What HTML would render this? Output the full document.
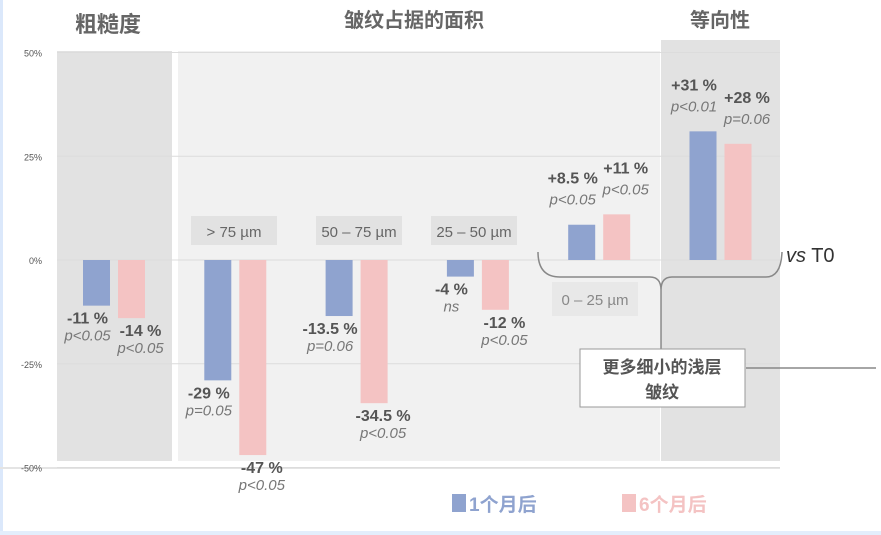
<!DOCTYPE html>
<html><head><meta charset="utf-8"><style>
body{margin:0;background:#fff;}
svg{display:block;font-family:"Liberation Sans","Noto Sans CJK SC",sans-serif;}
</style></head><body>
<svg id="c" width="881" height="535" viewBox="0 0 881 535">
<rect x="0" y="0" width="881" height="535" fill="#fff"/>
<rect x="0" y="0" width="3" height="535" fill="#dbe8fb"/>
<rect x="0" y="531" width="881" height="4" fill="#e3eefc"/>
<rect x="57" y="51" width="115" height="410" fill="#e2e2e2"/>
<rect x="178" y="51" width="482" height="410" fill="#f1f1f1"/>
<rect x="661" y="40" width="119" height="421" fill="#e2e2e2"/>
<line x1="0" y1="468" x2="780" y2="468" stroke="#e4e4e4" stroke-width="2"/>
<g id="grid"></g>
<g id="bars"></g>
<g id="labels"></g>
<text x="108" y="32" font-size="22" font-weight="bold" fill="#666" text-anchor="middle">粗糙度</text>
<text x="414" y="27" font-size="20" font-weight="bold" fill="#666" text-anchor="middle">皱纹占据的面积</text>
<text x="720" y="27" font-size="20" font-weight="bold" fill="#666" text-anchor="middle">等向性</text>
<g>
<rect x="191" y="216" width="86" height="29" fill="#e2e2e2"/><text x="234" y="237" font-size="15" fill="#666" text-anchor="middle">&gt; 75 µm</text>
<rect x="316" y="216" width="86" height="29" fill="#e2e2e2"/><text x="359" y="237" font-size="15" fill="#666" text-anchor="middle">50 – 75 µm</text>
<rect x="431" y="216" width="86" height="29" fill="#e2e2e2"/><text x="474" y="237" font-size="15" fill="#666" text-anchor="middle">25 – 50 µm</text>
<rect x="552" y="282" width="86" height="34" fill="#e6e6e6" opacity="0.8"/><text x="595" y="305" font-size="15" fill="#888" text-anchor="middle">0 – 25 µm</text>
</g>
<path d="M538 252 Q538 277 560 277 L650 277 Q661 277 661 290 Q661 277 672 277 L766 277 Q781 277 782 252" fill="none" stroke="#888" stroke-width="1.5"/>
<line x1="661" y1="290" x2="661" y2="349" stroke="#888" stroke-width="1.5"/>
<line x1="746" y1="368" x2="876" y2="368" stroke="#888" stroke-width="1.5"/>
<text x="786" y="262" font-size="20" fill="#333"><tspan font-style="italic">vs</tspan> T0</text>
<rect x="580" y="349" width="165" height="58" fill="#fff" stroke="#999"/>
<text x="662" y="373" font-size="17" font-weight="bold" fill="#555" text-anchor="middle">更多细小的浅层</text>
<text x="662" y="398" font-size="17" font-weight="bold" fill="#555" text-anchor="middle">皱纹</text>
<g>
<rect x="452" y="494" width="14" height="18" fill="#8fa3cf"/><text x="469" y="511" font-size="19" font-weight="bold" fill="#8fa3cf">1个月后</text>
<rect x="622" y="494" width="14" height="18" fill="#f4c3c3"/><text x="639" y="511" font-size="19" font-weight="bold" fill="#f4c3c3">6个月后</text>
</g>
</svg>
<script>
const categories=["roughness",">75","50-75","25-50","0-25","isotropy"];
const month1=[-11,-29,-13.5,-4,8.5,31];
const month6=[-14,-47,-34.5,-12,11,28];
const label1=["-11 %","-29 %","-13.5 %","-4 %","+8.5 %","+31 %"];
const label6=["-14 %","-47 %","-34.5 %","-12 %","+11 %","+28 %"];
const p1=["p<0.05","p=0.05","p=0.06","ns","p<0.05","p<0.01"];
const p6=["p<0.05","p<0.05","p<0.05","p<0.05","p<0.05","p=0.06"];
const ticks=[50,25,0,-25,-50];
const ns="http://www.w3.org/2000/svg";
const y=v=>260-v*4.15;
const x0=i=>83+i*121.3;
const W=27;
const g=document.getElementById('grid'),b=document.getElementById('bars'),L=document.getElementById('labels');
function mk(t,a,p){const e=document.createElementNS(ns,t);for(const k in a)e.setAttribute(k,a[k]);p.appendChild(e);return e;}
ticks.forEach(t=>{
 const ln=mk('line',{x1:57,x2:780,y1:y(t),y2:y(t),stroke:'#dcdcdc','stroke-width':1},g);
 
 
 const tx=mk('text',{x:42,y:y(t)+4,'font-size':9,fill:'#555','text-anchor':'end'},g);
 tx.textContent=t+'%';
 
 
});
function lab(cx,yy,txt,italic,size){const t=mk('text',{x:cx,y:yy,'font-size':size,fill:italic?'#777':'#555','text-anchor':'middle','font-weight':italic?'normal':'bold','font-style':italic?'italic':'normal'},L);t.textContent=txt;
 
 }
categories.forEach((c,i)=>{
 [[month1,'#8fa3cf',0,label1,p1,-9],[month6,'#f4c3c3',35,label6,p6,9]].forEach(([arr,col,off,lb,pp,dx])=>{
  const v=arr[i],xx=x0(i)+off;
  const r=mk('rect',{x:xx,y:Math.min(y(v),y(0)),width:W,height:Math.abs(y(v)-y(0)),fill:col},b);
  
  
  const cx=xx+W/2+dx;
  if(v<0){lab(cx,y(v)+18,lb[i],false,16);lab(cx,y(v)+35,pp[i],true,15);}
  else{lab(cx,y(v)-41,lb[i],false,16);lab(cx,y(v)-20,pp[i],true,15);}
 });
});
</script>
</body></html>
